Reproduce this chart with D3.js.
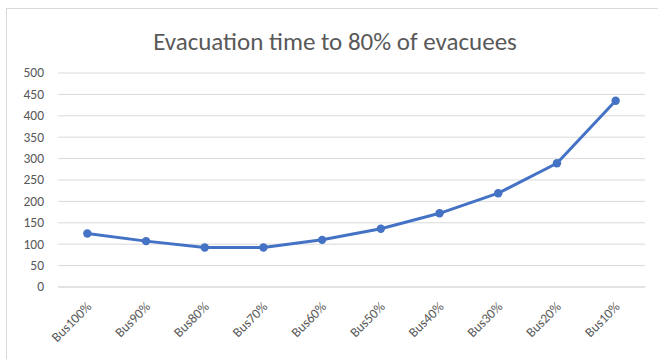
<!DOCTYPE html>
<html>
<head>
<meta charset="utf-8">
<script src="https://cdn.jsdelivr.net/npm/d3@7"></script>
<style>
  html, body { margin: 0; padding: 0; background: #fff; }
  svg { display: block; }
  text { font-family: Calibri, Carlito, "Open Sans", "Noto Sans", sans-serif; fill: #595959; }
</style>
</head>
<body>
<svg id="chart" width="658" height="359"></svg>
<script>
// Evacuation time per bus share scenario
const categories = ["Bus100%", "Bus90%", "Bus80%", "Bus70%", "Bus60%", "Bus50%", "Bus40%", "Bus30%", "Bus20%", "Bus10%"];
const evacTime = [124, 106, 91, 91, 109, 135, 171, 218, 288, 434];
const yTicks = [0, 50, 100, 150, 200, 250, 300, 350, 400, 450, 500];
const title = "Evacuation time to 80% of evacuees";

const svg = d3.select("#chart");
const W = 658, H = 359;
const plot = { left: 58, right: 645, top: 72.5, bottom: 286.5 };

// chart frame
svg.append("rect")
  .attr("x", 6.5).attr("y", 8.5)
  .attr("width", W + 10).attr("height", H + 10)
  .attr("fill", "#fff").attr("stroke", "#d9d9d9").attr("stroke-width", 1);

const x = d3.scaleBand().domain(categories).range([plot.left, plot.right]);
const y = d3.scaleLinear().domain([0, 500]).range([plot.bottom, plot.top]);

// horizontal gridlines + y labels
const yAxis = d3.axisLeft(y).tickValues(yTicks).tickSize(-(plot.right - plot.left)).tickPadding(14);
const gy = svg.append("g").attr("transform", `translate(${plot.left},0)`).call(yAxis);
gy.select(".domain").remove();
gy.selectAll(".tick line").attr("stroke", "#d9d9d9").attr("stroke-width", 1);
gy.selectAll(".tick text").attr("font-size", 13.5).attr("fill", "#595959");

// x axis labels, rotated
const xAxis = d3.axisBottom(x).tickSize(0).tickPadding(0);
const gx = svg.append("g").attr("transform", `translate(0,${plot.bottom})`).call(xAxis);
gx.select(".domain").attr("stroke", "#d9d9d9");
gx.selectAll(".tick text")
  .attr("font-size", 13.5)
  .attr("fill", "#595959")
  .attr("text-anchor", "end")
  .attr("dy", 0)
  .attr("transform", "translate(5,21) rotate(-45)");

// line + markers
const pts = categories.map((c, i) => ({ c, v: evacTime[i] }));
const line = d3.line().x(d => x(d.c) + x.bandwidth() / 2).y(d => y(d.v));
svg.append("path").datum(pts)
  .attr("d", line)
  .attr("fill", "none")
  .attr("stroke", "#4472C4")
  .attr("stroke-width", 3)
  .attr("stroke-linejoin", "round")
  .attr("stroke-linecap", "round");
svg.selectAll("circle.pt").data(pts).join("circle")
  .attr("class", "pt")
  .attr("cx", d => x(d.c) + x.bandwidth() / 2)
  .attr("cy", d => y(d.v))
  .attr("r", 4.2)
  .attr("fill", "#4472C4");

// title
svg.append("text")
  .attr("x", 335).attr("y", 50)
  .attr("text-anchor", "middle")
  .attr("font-size", 25)
  .attr("fill", "#595959")
  .text(title);
</script>
</body>
</html>
